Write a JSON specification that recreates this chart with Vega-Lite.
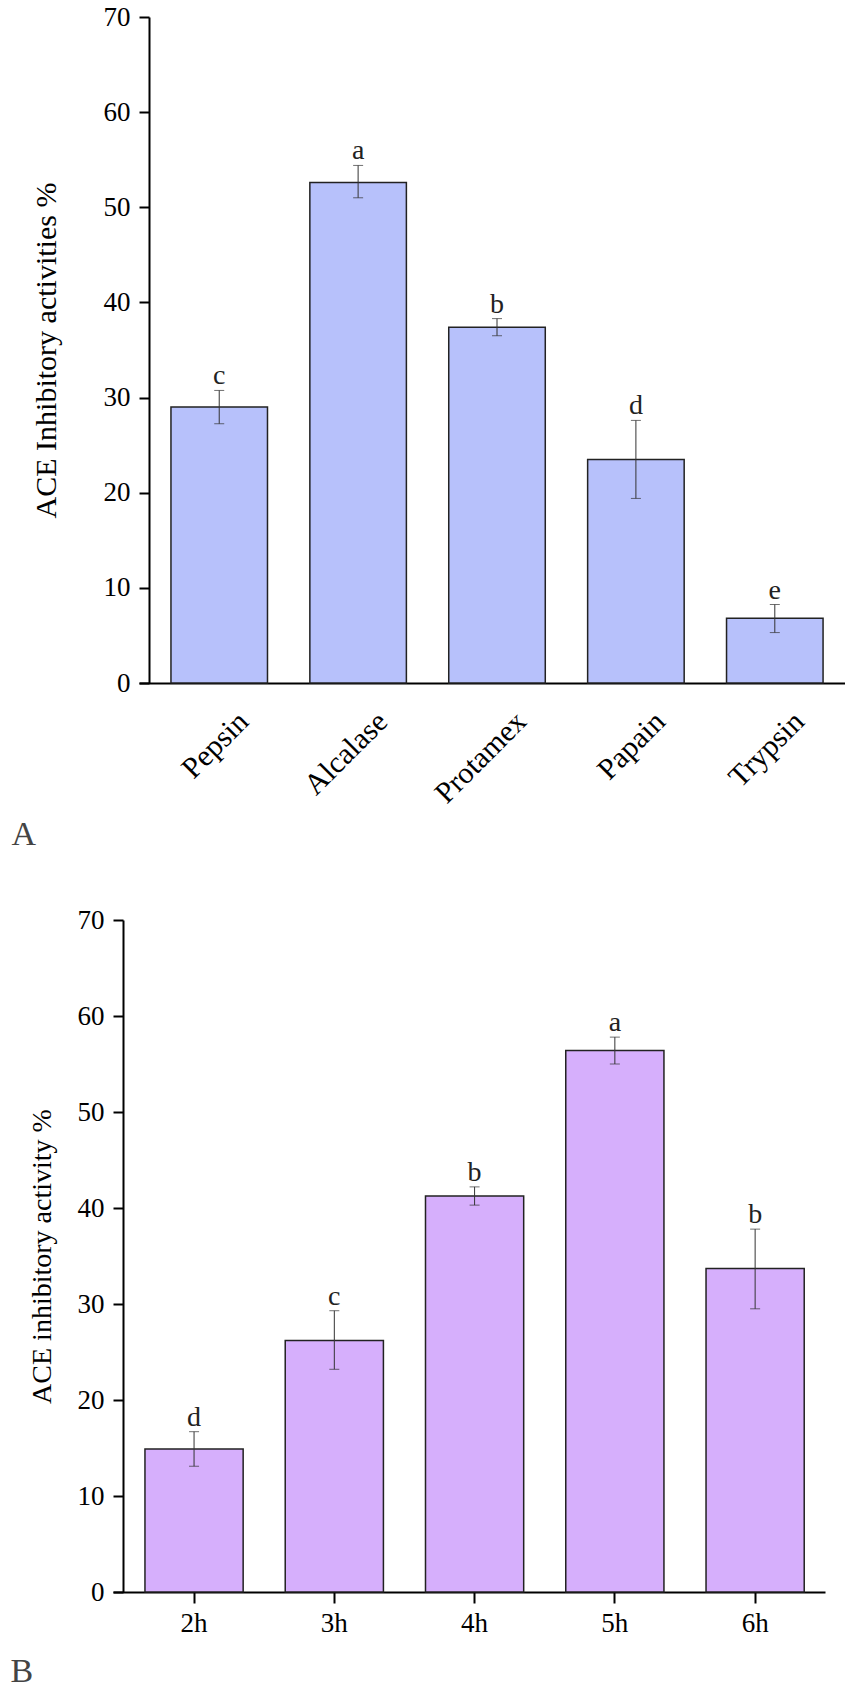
{
  "$schema": "https://vega.github.io/schema/vega-lite/v6.json",
  "background": "white",
  "padding": {"left": 10, "top": 3, "right": 0, "bottom": 0},
  "spacing": 237,
  "bounds": "flush",
  "datasets": {
    "enzyme": [
      {"enzyme": "Pepsin", "value": 29.0, "lo": 27.25, "hi": 30.75, "sig": "c"},
      {"enzyme": "Alcalase", "value": 52.6, "lo": 51.0, "hi": 54.4, "sig": "a"},
      {"enzyme": "Protamex", "value": 37.4, "lo": 36.5, "hi": 38.3, "sig": "b"},
      {"enzyme": "Papain", "value": 23.5, "lo": 19.4, "hi": 27.6, "sig": "d"},
      {"enzyme": "Trypsin", "value": 6.8, "lo": 5.3, "hi": 8.25, "sig": "e"}
    ],
    "time": [
      {"time": "2h", "value": 14.9, "lo": 13.1, "hi": 16.7, "sig": "d"},
      {"time": "3h", "value": 26.2, "lo": 23.2, "hi": 29.3, "sig": "c"},
      {"time": "4h", "value": 41.25, "lo": 40.3, "hi": 42.2, "sig": "b"},
      {"time": "5h", "value": 56.4, "lo": 55.0, "hi": 57.8, "sig": "a"},
      {"time": "6h", "value": 33.7, "lo": 29.5, "hi": 37.8, "sig": "b"}
    ]
  },
  "vconcat": [
    {
      "width": 732,
      "height": 666,
      "data": {"name": "enzyme"},
      "encoding": {
        "x": {
          "field": "enzyme",
          "type": "nominal",
          "sort": null,
          "scale": {"range": [26, 732], "paddingInner": 0.305, "paddingOuter": 0.194, "align": 0.593},
          "axis": {
            "title": "A",
            "labelAngle": -45,
            "labelAlign": "right",
            "labelBaseline": "top",
            "labelFontSize": 30,
            "labelOffset": 14,
            "labelPadding": 23,
            "ticks": false,
            "tickSize": 0,
            "titleX": -102,
            "titleY": 161,
            "titleAlign": "left",
            "titleBaseline": "alphabetic",
            "titleFontSize": 34,
            "titleColor": "#444"
          }
        }
      },
      "layer": [
        {
          "mark": {"type": "bar", "fill": "#b7c1fb", "stroke": "#222", "strokeWidth": 1.5},
          "encoding": {
            "y": {
              "field": "value",
              "type": "quantitative",
              "title": "ACE Inhibitory activities %",
              "scale": {"domain": [0, 70], "nice": false},
              "axis": {
                "offset": -36,
                "values": [0, 10, 20, 30, 40, 50, 60, 70],
                "titleX": -94,
                "titleBaseline": "alphabetic",
                "titleFontSize": 30
              }
            }
          }
        },
        {
          "mark": {"type": "rule", "color": "#333", "strokeWidth": 1},
          "encoding": {
            "y": {"field": "lo", "type": "quantitative", "title": "ACE Inhibitory activities %"},
            "y2": {"field": "hi"}
          }
        },
        {
          "mark": {"type": "tick", "color": "#333", "size": 10, "thickness": 1},
          "encoding": {"y": {"field": "lo", "type": "quantitative", "title": "ACE Inhibitory activities %"}}
        },
        {
          "mark": {"type": "tick", "color": "#333", "size": 10, "thickness": 1},
          "encoding": {"y": {"field": "hi", "type": "quantitative", "title": "ACE Inhibitory activities %"}}
        },
        {
          "mark": {"type": "text", "dy": -6, "baseline": "alphabetic", "fontSize": 28, "color": "#222"},
          "encoding": {
            "y": {"field": "hi", "type": "quantitative", "title": "ACE Inhibitory activities %"},
            "text": {"field": "sig"}
          }
        }
      ]
    },
    {
      "width": 712,
      "height": 672,
      "data": {"name": "time"},
      "encoding": {
        "x": {
          "field": "time",
          "type": "nominal",
          "sort": null,
          "scale": {"paddingInner": 0.3, "paddingOuter": 0.188, "align": 0.606},
          "axis": {
            "title": "B",
            "labelAngle": 0,
            "labelFontSize": 27,
            "labelPadding": 7,
            "tickSize": 11,
            "titleX": -103,
            "titleY": 89,
            "titleAlign": "left",
            "titleBaseline": "alphabetic",
            "titleFontSize": 34,
            "titleColor": "#444"
          }
        }
      },
      "layer": [
        {
          "mark": {"type": "bar", "fill": "#d6affc", "stroke": "#222", "strokeWidth": 1.5},
          "encoding": {
            "y": {
              "field": "value",
              "type": "quantitative",
              "title": "ACE inhibitory activity %",
              "scale": {"domain": [0, 70], "nice": false},
              "axis": {
                "offset": -10,
                "values": [0, 10, 20, 30, 40, 50, 60, 70],
                "titleX": -73,
                "titleBaseline": "alphabetic",
                "titleFontSize": 28
              }
            }
          }
        },
        {
          "mark": {"type": "rule", "color": "#333", "strokeWidth": 1},
          "encoding": {
            "y": {"field": "lo", "type": "quantitative", "title": "ACE inhibitory activity %"},
            "y2": {"field": "hi"}
          }
        },
        {
          "mark": {"type": "tick", "color": "#333", "size": 10, "thickness": 1},
          "encoding": {"y": {"field": "lo", "type": "quantitative", "title": "ACE inhibitory activity %"}}
        },
        {
          "mark": {"type": "tick", "color": "#333", "size": 10, "thickness": 1},
          "encoding": {"y": {"field": "hi", "type": "quantitative", "title": "ACE inhibitory activity %"}}
        },
        {
          "mark": {"type": "text", "dy": -6, "baseline": "alphabetic", "fontSize": 28, "color": "#222"},
          "encoding": {
            "y": {"field": "hi", "type": "quantitative", "title": "ACE inhibitory activity %"},
            "text": {"field": "sig"}
          }
        }
      ]
    }
  ],
  "config": {
    "view": {"stroke": null},
    "font": "Liberation Serif",
    "axis": {
      "grid": false,
      "domainColor": "black",
      "domainWidth": 2,
      "tickColor": "black",
      "tickWidth": 2,
      "tickSize": 10,
      "labelColor": "black",
      "labelFontSize": 27,
      "labelPadding": 9,
      "titleColor": "black",
      "titleFontWeight": "normal"
    }
  }
}
